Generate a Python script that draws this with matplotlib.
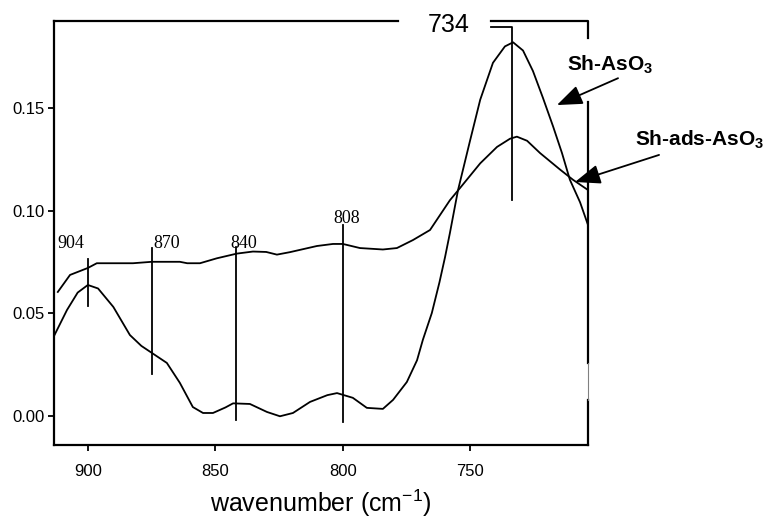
import matplotlib
matplotlib.use("Agg")
import matplotlib.pyplot as plt
from matplotlib.ticker import FormatStrFormatter

plt.rcParams['font.family'] = ['Liberation Sans', 'DejaVu Sans']
plt.rcParams['mathtext.fontset'] = 'custom'
plt.rcParams['mathtext.rm'] = 'Liberation Sans'
plt.rcParams['mathtext.bf'] = 'Liberation Sans:bold'

# Sh-AsO3 spectrum
wn_as = [913.3, 908.2, 904, 900, 896, 890, 883.5, 879, 874.9, 869, 863.9, 858.8,
         854.8, 850.9, 846, 843, 836.4, 829.7, 824.6, 819.5, 812.8, 806, 802.2,
         796, 790.5, 784.2, 780.2, 774.8, 770.8, 768.5, 765, 762, 759.8, 757.9,
         754.7, 750, 746, 741, 736.3, 733.1, 729.2, 725.3, 721.4, 717.4, 713.9,
         710.8, 706.8, 703.7]
abs_as = [0.0388, 0.0515, 0.060, 0.0637, 0.062, 0.053, 0.0393, 0.034, 0.0306,
          0.0257, 0.016, 0.0042, 0.0013, 0.0013, 0.004, 0.006, 0.0057, 0.0018,
          -0.0003, 0.0013, 0.0067, 0.0100, 0.011, 0.0087, 0.0038, 0.0033, 0.0077,
          0.0164, 0.027, 0.037, 0.050, 0.065, 0.0773, 0.089, 0.110, 0.134, 0.154,
          0.172, 0.180, 0.182, 0.178, 0.168, 0.155, 0.141, 0.128, 0.115, 0.104,
          0.093]

# Sh-ads-AsO3 spectrum
wn_ads = [911.8, 907, 900, 896.5, 882.3, 874.9, 863.9, 861, 856, 849.4, 841.5,
          835.2, 830, 825.8, 820.7, 810.1, 803.8, 799.9, 793.2, 784.2, 778.7,
          772.4, 765.7, 757.9, 753.9, 746, 739.4, 734.3, 731.6, 727.6, 722.5,
          714.7, 709.6, 703.7]
abs_ads = [0.0603, 0.0686, 0.072, 0.0743, 0.0743, 0.075, 0.075, 0.0743, 0.0743,
           0.0767, 0.079, 0.080, 0.0798, 0.0785, 0.0797, 0.0827, 0.0837, 0.0837,
           0.0817, 0.081, 0.0817, 0.0856, 0.0905, 0.105, 0.111, 0.123, 0.131,
           0.135, 0.136, 0.134, 0.128, 0.120, 0.115, 0.110]

# peak markers: label, line position, line bottom, line top
peak_labels = ['904', '870', '840', '808']
peak_pos = [900, 875, 842, 800]
peak_lo = [0.0535, 0.0203, -0.0021, -0.0031]
peak_hi = [0.0764, 0.0817, 0.0822, 0.0928]
peak_text_x = [906.5, 869.2, 838.8, 798.5]
peak_text_y = [0.0816, 0.0816, 0.0816, 0.0938]

fig = plt.figure(figsize=(7.69, 5.19), dpi=100)
ax = fig.add_axes([0.0702, 0.1426, 0.6944, 0.8170])

ax.plot(wn_as, abs_as, color='black', lw=1.3)
ax.plot(wn_ads, abs_ads, color='black', lw=1.3)

for lab, x, lo, hi, tx, ty in zip(peak_labels, peak_pos, peak_lo, peak_hi,
                                  peak_text_x, peak_text_y):
    ax.plot([x, x], [lo, hi], color='black', lw=1.3)
    ax.text(tx, ty, lab, ha='center', va='baseline', fontsize=13,
            family='Liberation Serif')

# 734 marker
ax.plot([741.8, 733.5, 733.5], [0.1894, 0.1894, 0.1051], color='black', lw=1.3,
        clip_on=False)
ax.text(758.3, 0.1904, '734', ha='center', va='center', fontsize=18)

ax.set_xlim(913.3, 703.7)
ax.set_ylim(-0.0143, 0.1924)
ax.set_xticks([900, 850, 800, 750])
ax.set_yticks([0.00, 0.05, 0.10, 0.15])
ax.yaxis.set_major_formatter(FormatStrFormatter('%.2f'))
ax.tick_params(axis='x', direction='out', length=4, width=1.3, pad=10, labelsize=12)
ax.tick_params(axis='y', direction='out', length=4.5, width=1.3, pad=2, labelsize=12)
ax.set_xlabel('wavenumber (cm$^{-1}$)', fontsize=18, labelpad=6)

for s in ['left', 'bottom']:
    ax.spines[s].set_linewidth(1.6)
ax.spines['top'].set_visible(False)
ax.spines['right'].set_visible(False)

# broken top and right frame lines
kw = dict(color='black', lw=1.6, transform=ax.transAxes, clip_on=False)
ax.plot([0, 0.644], [1, 1], **kw)
ax.plot([0.818, 1, 1], [1, 1, 0.960], **kw)
ax.plot([1, 1], [0.809, 0.193], **kw)
ax.plot([1, 1], [0.106, 0], **kw)
ax.plot([1, 1], [0.193, 0.106], color='gray', lw=0.8, transform=ax.transAxes,
        clip_on=False)

# labels with arrows
arrow = dict(arrowstyle='-|>,head_length=1.3,head_width=0.5', mutation_scale=12,
             color='black', lw=1.3, shrinkA=0, shrinkB=0)
ax.text(695.05, 0.1709, r'Sh-AsO$_\mathbf{3}$', ha='center', va='center',
        fontsize=15, fontweight='bold', clip_on=False)
ax.annotate('', xy=(715.9, 0.1514), xytext=(691.9, 0.1645),
            arrowprops=arrow, annotation_clip=False)
ax.text(659.7, 0.1344, r'Sh-ads-AsO$_\mathbf{3}$', ha='center', va='center',
        fontsize=15, fontweight='bold', clip_on=False)
ax.annotate('', xy=(708.8, 0.1139), xytext=(675.8, 0.1271),
            arrowprops=arrow, annotation_clip=False)

fig.savefig('out.png', dpi=100)
